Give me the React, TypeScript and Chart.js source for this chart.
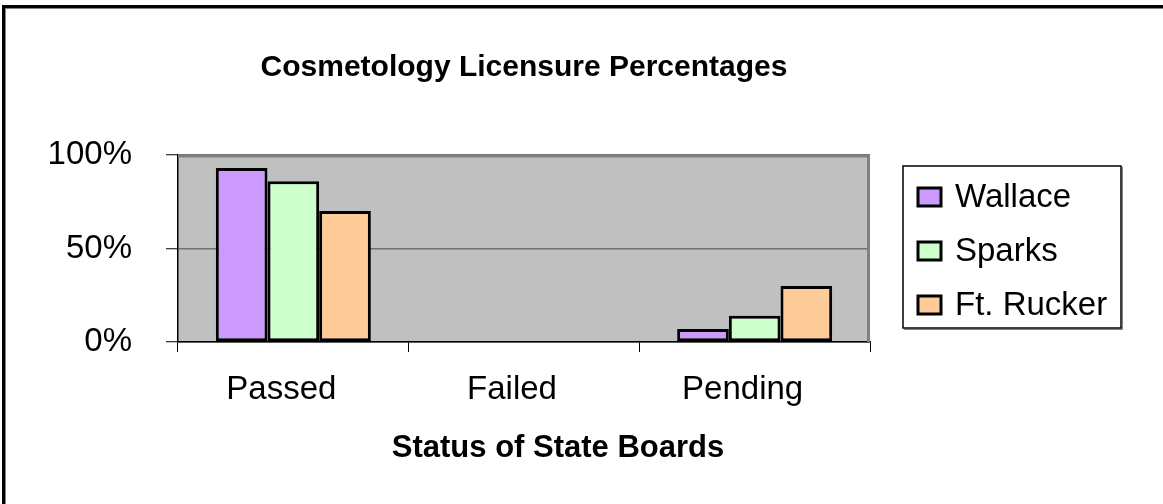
import React, { useEffect, useRef } from "react";
import { Chart, registerables } from "chart.js";

Chart.register(...registerables);

const categories = ["Passed", "Failed", "Pending"];
const seriesNames = ["Wallace", "Sparks", "Ft. Rucker"];
const wallace = [93, 0, 7];
const sparks = [86, 0, 14];
const ftRucker = [70, 0, 30];
const seriesColors = ["#cc99ff", "#ccffcc", "#ffcc99"];
const yTicks = [0, 50, 100];
const chartTitle = "Cosmetology Licensure Percentages";
const xTitle = "Status of State Boards";

const FONT = "'Liberation Sans', Arial, sans-serif";

const decorPlugin = {
  id: "decor",
  beforeDraw(chart: any) {
    const { ctx, chartArea: a } = chart;
    ctx.save();
    ctx.fillStyle = "#ffffff";
    ctx.fillRect(0, 0, chart.width, chart.height);
    ctx.fillStyle = "#000000";
    ctx.fillRect(2, 5, chart.width, 3);
    ctx.fillRect(2, 5, 3, chart.height);
    ctx.fillStyle = "#808080";
    ctx.fillRect(5, 8, chart.width, 1);
    ctx.fillRect(5, 8, 1, chart.height);
    ctx.fillStyle = "#c0c0c0";
    ctx.fillRect(a.left, a.top, a.right - a.left, a.bottom - a.top);
    ctx.restore();
  },
  afterDatasetsDraw(chart: any) {
    const { ctx, chartArea: a } = chart;
    ctx.save();
    ctx.strokeStyle = "#808080";
    ctx.lineWidth = 3;
    ctx.beginPath();
    ctx.moveTo(a.left, a.top + 1);
    ctx.lineTo(a.right - 1.5, a.top + 1);
    ctx.lineTo(a.right - 1.5, a.bottom);
    ctx.stroke();
    ctx.restore();
  },
  afterDraw(chart: any) {
    const { ctx } = chart;
    ctx.save();
    ctx.fillStyle = "#000";
    ctx.textBaseline = "middle";
    ctx.textAlign = "center";
    ctx.font = `bold 30px ${FONT}`;
    ctx.fillText(chartTitle, 524, 68);
    ctx.font = `bold 31px ${FONT}`;
    ctx.fillText(xTitle, 558, 448);
    const lx = 903, ly = 166, lw = 218, lh = 162;
    ctx.fillStyle = "#ffffff";
    ctx.fillRect(lx, ly, lw, lh);
    ctx.strokeStyle = "#808080";
    ctx.lineWidth = 1;
    ctx.beginPath();
    ctx.moveTo(lx + 1, ly + lh + 1.5);
    ctx.lineTo(lx + lw + 1.5, ly + lh + 1.5);
    ctx.lineTo(lx + lw + 1.5, ly + 1);
    ctx.stroke();
    ctx.strokeStyle = "#000";
    ctx.lineWidth = 1.5;
    ctx.strokeRect(lx, ly, lw, lh);
    const rows = [197, 251, 305];
    chart.data.datasets.forEach((ds: any, i: number) => {
      const y = rows[i];
      ctx.fillStyle = ds.backgroundColor;
      ctx.fillRect(918, y - 9, 23, 18);
      ctx.strokeStyle = "#000";
      ctx.lineWidth = 3;
      ctx.strokeRect(918, y - 9, 23, 18);
      ctx.fillStyle = "#000";
      ctx.textAlign = "left";
      ctx.font = `33px ${FONT}`;
      ctx.fillText(ds.label, 955, y + 1);
    });
    ctx.restore();
  },
};

export default function App() {
  const ref = useRef<HTMLCanvasElement | null>(null);
  useEffect(() => {
    if (!ref.current) return;
    const values = [wallace, sparks, ftRucker];
    const chart = new Chart(ref.current, {
      type: "bar",
      data: {
        labels: categories,
        datasets: seriesNames.map((name, i) => ({
          label: name,
          data: values[i],
          backgroundColor: seriesColors[i],
          borderColor: "#000000",
          borderWidth: 3,
          borderSkipped: false,
          barPercentage: 1,
          categoryPercentage: 0.672,
        })),
      },
      options: {
        responsive: false,
        animation: false,
        layout: { padding: { left: 0, right: 293, top: 155, bottom: 42 } },
        plugins: {
          legend: { display: false },
          title: { display: false },
          tooltip: { enabled: false },
        },
        scales: {
          x: {
            grid: {
              offset: true,
              drawOnChartArea: false,
              drawTicks: true,
              tickLength: 10,
              tickColor: "#000",
              tickWidth: 1,
            },
            border: { color: "#000", width: 1.5 },
            ticks: {
              color: "#000",
              font: { family: FONT, size: 33 },
              padding: 18,
              labelOffset: -12,
              maxRotation: 0,
            },
            afterFit: (s: any) => {
              s.height = 120;
            },
          },
          y: {
            min: 0,
            max: 100,
            afterBuildTicks: (s: any) => {
              s.ticks = yTicks.map((v) => ({ value: v }));
            },
            grid: {
              color: "#707070",
              lineWidth: 1.5,
              drawTicks: true,
              tickLength: 12,
              tickColor: "#000",
              tickWidth: 1,
            },
            border: { color: "#000", width: 1.5 },
            ticks: {
              color: "#000",
              font: { family: FONT, size: 33 },
              padding: 34,
              callback: (v: any) => v + "%",
            },
            afterFit: (s: any) => {
              s.width = 178;
            },
          },
        },
      },
      plugins: [decorPlugin],
    });
    return () => chart.destroy();
  }, []);
  return (
    <div style={{ position: "absolute", left: 0, top: 0, width: 1163, height: 504 }}>
      <canvas ref={ref} width={1163} height={504} style={{ width: 1163, height: 504, display: "block" }} />
    </div>
  );
}
